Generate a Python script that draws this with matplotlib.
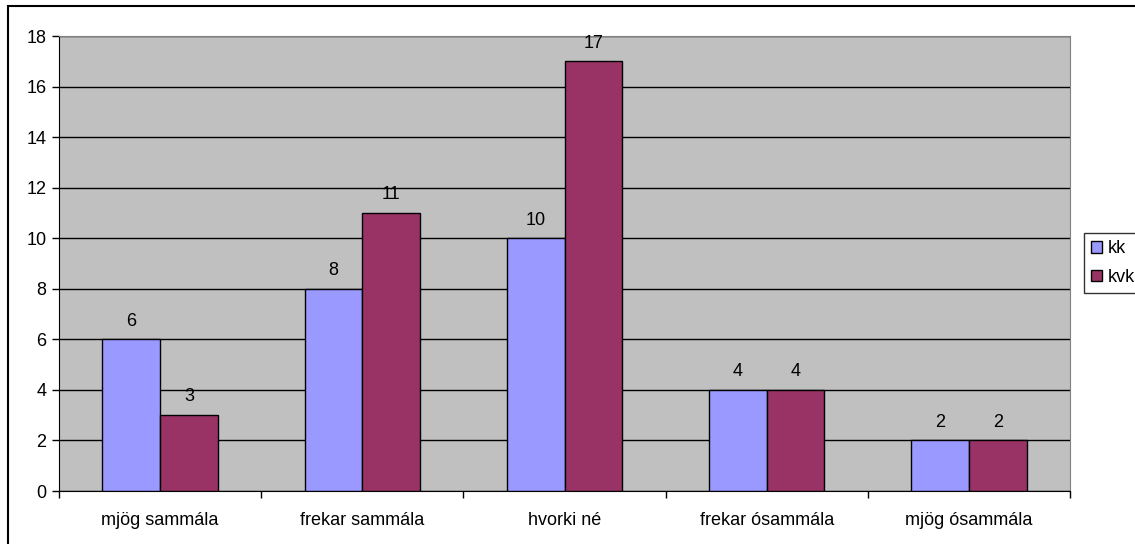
import numpy as np
import matplotlib
matplotlib.use("Agg")
from matplotlib import pyplot as plt
from matplotlib.patches import Rectangle

categories = ["mjög sammála", "frekar sammála", "hvorki né", "frekar ósammála", "mjög ósammála"]
kk = [6, 8, 10, 4, 2]
kvk = [3, 11, 17, 4, 2]
series_names = ["kk", "kvk"]
colors = ["#9999FF", "#993366"]

plt.rcParams['font.family'] = ['Liberation Sans', 'DejaVu Sans']
FS = 13

W, H = 1135, 544
fig = plt.figure(figsize=(W / 100, H / 100), dpi=100)
# outer chart border
fig.patches.append(Rectangle((8 / W, -0.01), 1.2, 1 - 6 / H + 0.01, transform=fig.transFigure,
                             fill=False, edgecolor="black", linewidth=1.5))

ax = fig.add_axes([59 / W, 1 - 491 / H, (1070 - 59) / W, (491 - 36) / H])
ax.set_facecolor("#C0C0C0")

x = np.arange(len(categories))
bw = 0.285
b1 = ax.bar(x - bw / 2, kk, bw, color=colors[0], edgecolor="black", linewidth=1, label=series_names[0], zorder=3)
b2 = ax.bar(x + bw / 2, kvk, bw, color=colors[1], edgecolor="black", linewidth=1, label=series_names[1], zorder=3)
for bars in (b1, b2):
    for r in bars:
        ax.annotate(str(int(r.get_height())), (r.get_x() + r.get_width() / 2, r.get_height()),
                    xytext=(0, 7), textcoords="offset points", ha="center", va="bottom", fontsize=FS)

ax.set_xlim(-0.5, len(categories) - 0.5)
ax.set_ylim(0, 18)
ax.set_yticks(range(0, 19, 2))
ax.yaxis.grid(True, color="black", linewidth=1, zorder=1)
ax.set_axisbelow(True)

ax.set_xticks(x)
ax.set_xticklabels(categories, fontsize=FS)
ax.tick_params(axis="x", length=0, pad=15)
ax.set_xticks(np.arange(-0.5, len(categories)), minor=True)
ax.tick_params(axis="x", which="minor", length=5, direction="out", width=1)
ax.tick_params(axis="y", length=5, direction="out", width=1, labelsize=FS, pad=4)

for s in ["top", "right"]:
    ax.spines[s].set_color("#808080")
for s in ["left", "bottom"]:
    ax.spines[s].set_color("black")

leg = fig.legend(handles=[b1, b2], labels=series_names, loc="upper left",
                 bbox_to_anchor=(1084 / W, 1 - 233 / H), fontsize=FS, frameon=True,
                 fancybox=False, edgecolor="black", handlelength=0.6, handleheight=0.6,
                 handletextpad=0.3, borderpad=0.4, labelspacing=0.65, borderaxespad=0)
leg.get_frame().set_linewidth(1)

fig.savefig("out.png", dpi=100)
